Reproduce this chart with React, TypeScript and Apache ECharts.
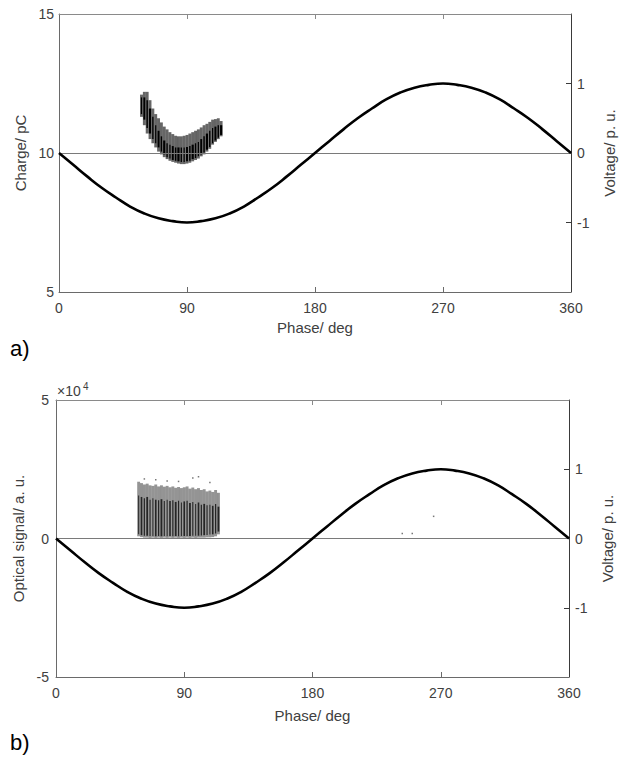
import React, { useEffect, useRef } from "react";
import * as echarts from "echarts";

// Phase tick labels
const phaseTicks = [0, 90, 180, 270, 360];

// Reference voltage (p.u.)
const voltagePhase = [0, 10, 20, 30, 40, 50, 60, 70, 80, 90, 100, 110, 120, 130, 140, 150, 160, 170, 180,
  190, 200, 210, 220, 230, 240, 250, 260, 270, 280, 290, 300, 310, 320, 330, 340, 350, 360];
const voltageValue = [0, -0.17, -0.34, -0.5, -0.64, -0.77, -0.87, -0.94, -0.98, -1, -0.98, -0.94, -0.87, -0.77,
  -0.64, -0.5, -0.34, -0.17, 0, 0.17, 0.34, 0.5, 0.64, 0.77, 0.87, 0.94, 0.98, 1, 0.98, 0.94, 0.87, 0.77, 0.64,
  0.5, 0.34, 0.17, 0];

// a) charge cloud (pC), columns by phase
const chargePhase = [58, 60, 62, 64, 66, 68, 70, 72, 74, 76, 78, 80, 82, 84, 86, 88, 90, 92, 94, 96, 98, 100,
  102, 104, 106, 108, 110, 112, 114];
const chargeLow = [11.3, 11.0, 10.7, 10.5, 10.35, 10.2, 10.05, 9.95, 9.85, 9.78, 9.72, 9.68, 9.65, 9.62, 9.6,
  9.6, 9.62, 9.65, 9.7, 9.75, 9.8, 9.88, 9.95, 10.05, 10.15, 10.3, 10.4, 10.5, 10.6];
const chargeHigh = [12.1, 12.2, 12.2, 11.9, 11.6, 11.4, 11.25, 11.1, 10.95, 10.85, 10.75, 10.68, 10.62, 10.6,
  10.6, 10.62, 10.65, 10.7, 10.75, 10.8, 10.85, 10.92, 11.0, 11.05, 11.12, 11.2, 11.22, 11.25, 11.15];
const chargeCoreLow = [11.4, 11.2, 10.9, 10.7, 10.5, 10.35, 10.2, 10.05, 9.95, 9.85, 9.8, 9.75, 9.72, 9.7, 9.68,
  9.68, 9.7, 9.72, 9.78, 9.82, 9.88, 9.95, 10.02, 10.12, 10.22, 10.35, 10.45, 10.55, 10.65];
const chargeCoreHigh = [12.0, 12.0, 11.9, 11.6, 11.3, 11.0, 10.8, 10.6, 10.45, 10.35, 10.3, 10.25, 10.2, 10.2,
  10.2, 10.2, 10.22, 10.25, 10.3, 10.35, 10.4, 10.5, 10.6, 10.7, 10.8, 10.9, 10.95, 11.0, 11.0];

// b) optical signal cloud (a.u.), columns by phase
const opticalPhase = chargePhase;
const opticalLow = [800, 500, 300, 300, 200, 300, 200, 300, 200, 300, 200, 300, 200, 300, 200, 300, 200, 300,
  200, 300, 200, 300, 300, 300, 400, 400, 500, 800, 1500];
const opticalHigh = [20500, 20000, 19500, 19800, 19200, 19000, 19500, 18800, 19200, 18700, 19000, 18500, 18800,
  18300, 18600, 18200, 18500, 18800, 18000, 18400, 17800, 18200, 17500, 17800, 17000, 17300, 16800, 17500, 16500];
const opticalCoreLow = [1500, 1200, 1000, 1000, 900, 900, 800, 900, 800, 900, 800, 900, 800, 900, 800, 900, 900,
  900, 900, 1000, 1000, 1000, 1100, 1200, 1300, 1400, 1500, 1800, 2500];
const opticalCoreHigh = [15500, 15000, 14500, 15000, 14000, 14500, 14000, 13800, 14200, 13500, 14000, 13500,
  13800, 13200, 13600, 13000, 13400, 13600, 12800, 13200, 12500, 13000, 12200, 12500, 12000, 12200, 11800, 12500, 11500];
// isolated optical events [phase, value]
const opticalDots = [[62, 21500], [70, 21200], [78, 20800], [86, 20600], [96, 21800], [100, 22300], [108, 20200],
  [243, 1800], [250, 1800], [265, 8000]];

const FONT = "Liberation Sans, Arial, sans-serif";
const TXT = "#404040";
const WIDTH_CYCLE = [1.0, 1.6, 1.2, 1.8, 1.1];

function stripes(width: number, color: string, vary: boolean) {
  return (params: any, api: any) => {
    const p = api.value(0);
    const lo = api.coord([p, api.value(1)]);
    const hi = api.coord([p, api.value(2)]);
    const w = vary ? width * WIDTH_CYCLE[params.dataIndex % WIDTH_CYCLE.length] : width;
    return {
      type: "rect",
      shape: { x: lo[0] - w / 2, y: hi[1], width: w, height: lo[1] - hi[1] },
      style: { fill: color },
    };
  };
}

function xAxes(grid: number) {
  return [
    {
      gridIndex: grid, type: "value", min: 0, max: 360, interval: 90, position: "bottom",
      axisLine: { show: true, onZero: false, lineStyle: { color: "#6a6a6a", width: 1 } },
      axisTick: { show: true, inside: true, length: 5, lineStyle: { color: "#6a6a6a" }, customValues: [90, 180, 270] },
      axisLabel: { color: TXT, fontSize: 14, fontFamily: FONT, margin: 9, customValues: phaseTicks },
      splitLine: { show: false },
      name: "Phase/ deg", nameLocation: "middle", nameGap: grid === 0 ? 28 : 31,
      nameTextStyle: { color: TXT, fontSize: 15, fontFamily: FONT },
    },
    {
      gridIndex: grid, type: "value", min: 0, max: 360, interval: 90, position: "top",
      axisLine: { show: true, onZero: false, lineStyle: { color: "#8a8a8a", width: 1 } },
      axisTick: { show: true, inside: true, length: 5, lineStyle: { color: "#8a8a8a" }, customValues: [90, 180, 270] },
      axisLabel: { show: false },
      splitLine: { show: false },
    },
  ];
}

function rightAxis(grid: number) {
  return {
    gridIndex: grid, type: "value", min: -2, max: 2, interval: 1, position: "right",
    axisLine: { show: true, onZero: false, lineStyle: { color: "#3a3a3a", width: 1 } },
    axisTick: { show: true, inside: true, length: 5, lineStyle: { color: "#3a3a3a" }, customValues: [-1, 0, 1] },
    axisLabel: { color: TXT, fontSize: 14, fontFamily: FONT, margin: 6, customValues: [-1, 0, 1] },
    splitLine: { show: false },
    name: "Voltage/ p. u.", nameLocation: "middle", nameGap: 31,
    nameTextStyle: { color: TXT, fontSize: 15, fontFamily: FONT },
  };
}

function voltageSeries(xi: number, yi: number) {
  return {
    type: "line", xAxisIndex: xi, yAxisIndex: yi, smooth: true, symbol: "none",
    data: voltagePhase.map((p, i) => [p, voltageValue[i]]),
    lineStyle: { color: "#000", width: 2.6 },
    z: 5,
    markLine: {
      silent: true, symbol: "none", label: { show: false },
      lineStyle: { color: "#7a7a7a", width: 1.2, type: "solid" },
      data: [{ yAxis: 0 }],
    },
  };
}

export default function App() {
  const ref = useRef<HTMLDivElement>(null);
  useEffect(() => {
    if (!ref.current) return;
    const chart = echarts.init(ref.current, null, { renderer: "svg" });
    const option: any = {
      animation: false,
      backgroundColor: "#fff",
      grid: [
        { left: 59, top: 14, width: 513, height: 278 },
        { left: 56, top: 400, width: 513, height: 277 },
      ],
      xAxis: [...xAxes(0), ...xAxes(1)],
      yAxis: [
        {
          gridIndex: 0, type: "value", min: 5, max: 15, interval: 5, position: "left",
          axisLine: { show: true, onZero: false, lineStyle: { color: "#6a6a6a" } },
          axisTick: { show: false },
          axisLabel: { color: TXT, fontSize: 14, fontFamily: FONT, margin: 5 },
          splitLine: { show: false },
          name: "Charge/ pC", nameLocation: "middle", nameGap: 29,
          nameTextStyle: { color: TXT, fontSize: 15, fontFamily: FONT },
        },
        rightAxis(0),
        {
          gridIndex: 1, type: "value", min: -50000, max: 50000, interval: 50000, position: "left",
          axisLine: { show: true, onZero: false, lineStyle: { color: "#6a6a6a" } },
          axisTick: { show: false },
          axisLabel: { color: TXT, fontSize: 14, fontFamily: FONT, margin: 7, formatter: (v: number) => String(v / 10000) },
          splitLine: { show: false },
          name: "Optical signal/ a. u.", nameLocation: "middle", nameGap: 26,
          nameTextStyle: { color: TXT, fontSize: 15, fontFamily: FONT },
        },
        rightAxis(1),
      ],
      series: [
        {
          type: "custom", xAxisIndex: 0, yAxisIndex: 0, renderItem: stripes(2.9, "rgba(0,0,0,0.6)", false),
          encode: { x: 0, y: [1, 2] }, data: chargePhase.map((p, i) => [p, chargeLow[i], chargeHigh[i]]), z: 3,
        },
        {
          type: "custom", xAxisIndex: 0, yAxisIndex: 0, renderItem: stripes(1.2, "#000", true),
          encode: { x: 0, y: [1, 2] }, data: chargePhase.map((p, i) => [p, chargeCoreLow[i], chargeCoreHigh[i]]), z: 4,
        },
        voltageSeries(0, 1),
        {
          type: "custom", xAxisIndex: 2, yAxisIndex: 2, renderItem: stripes(2.9, "rgba(0,0,0,0.42)", false),
          encode: { x: 0, y: [1, 2] }, data: opticalPhase.map((p, i) => [p, opticalLow[i], opticalHigh[i]]), z: 3,
        },
        {
          type: "custom", xAxisIndex: 2, yAxisIndex: 2, renderItem: stripes(1.0, "rgba(0,0,0,0.75)", true),
          encode: { x: 0, y: [1, 2] }, data: opticalPhase.map((p, i) => [p, opticalCoreLow[i], opticalCoreHigh[i]]), z: 4,
        },
        {
          type: "scatter", xAxisIndex: 2, yAxisIndex: 2, symbol: "rect", symbolSize: 1.5,
          itemStyle: { color: "#555" }, data: opticalDots, z: 4,
        },
        voltageSeries(2, 3),
      ],
      graphic: [
        { type: "text", left: 10, top: 337, style: { text: "a)", fontSize: 22, fontFamily: FONT, fill: "#000" } },
        { type: "text", left: 10, top: 731, style: { text: "b)", fontSize: 22, fontFamily: FONT, fill: "#000" } },
        { type: "text", left: 57, top: 384, style: { text: "×10", fontSize: 14, fontFamily: FONT, fill: TXT } },
        { type: "text", left: 83, top: 381, style: { text: "4", fontSize: 10, fontFamily: FONT, fill: TXT } },
      ],
    };
    chart.setOption(option);
    return () => chart.dispose();
  }, []);
  return <div ref={ref} style={{ position: "absolute", left: 0, top: 0, width: 625, height: 762 }} />;
}
